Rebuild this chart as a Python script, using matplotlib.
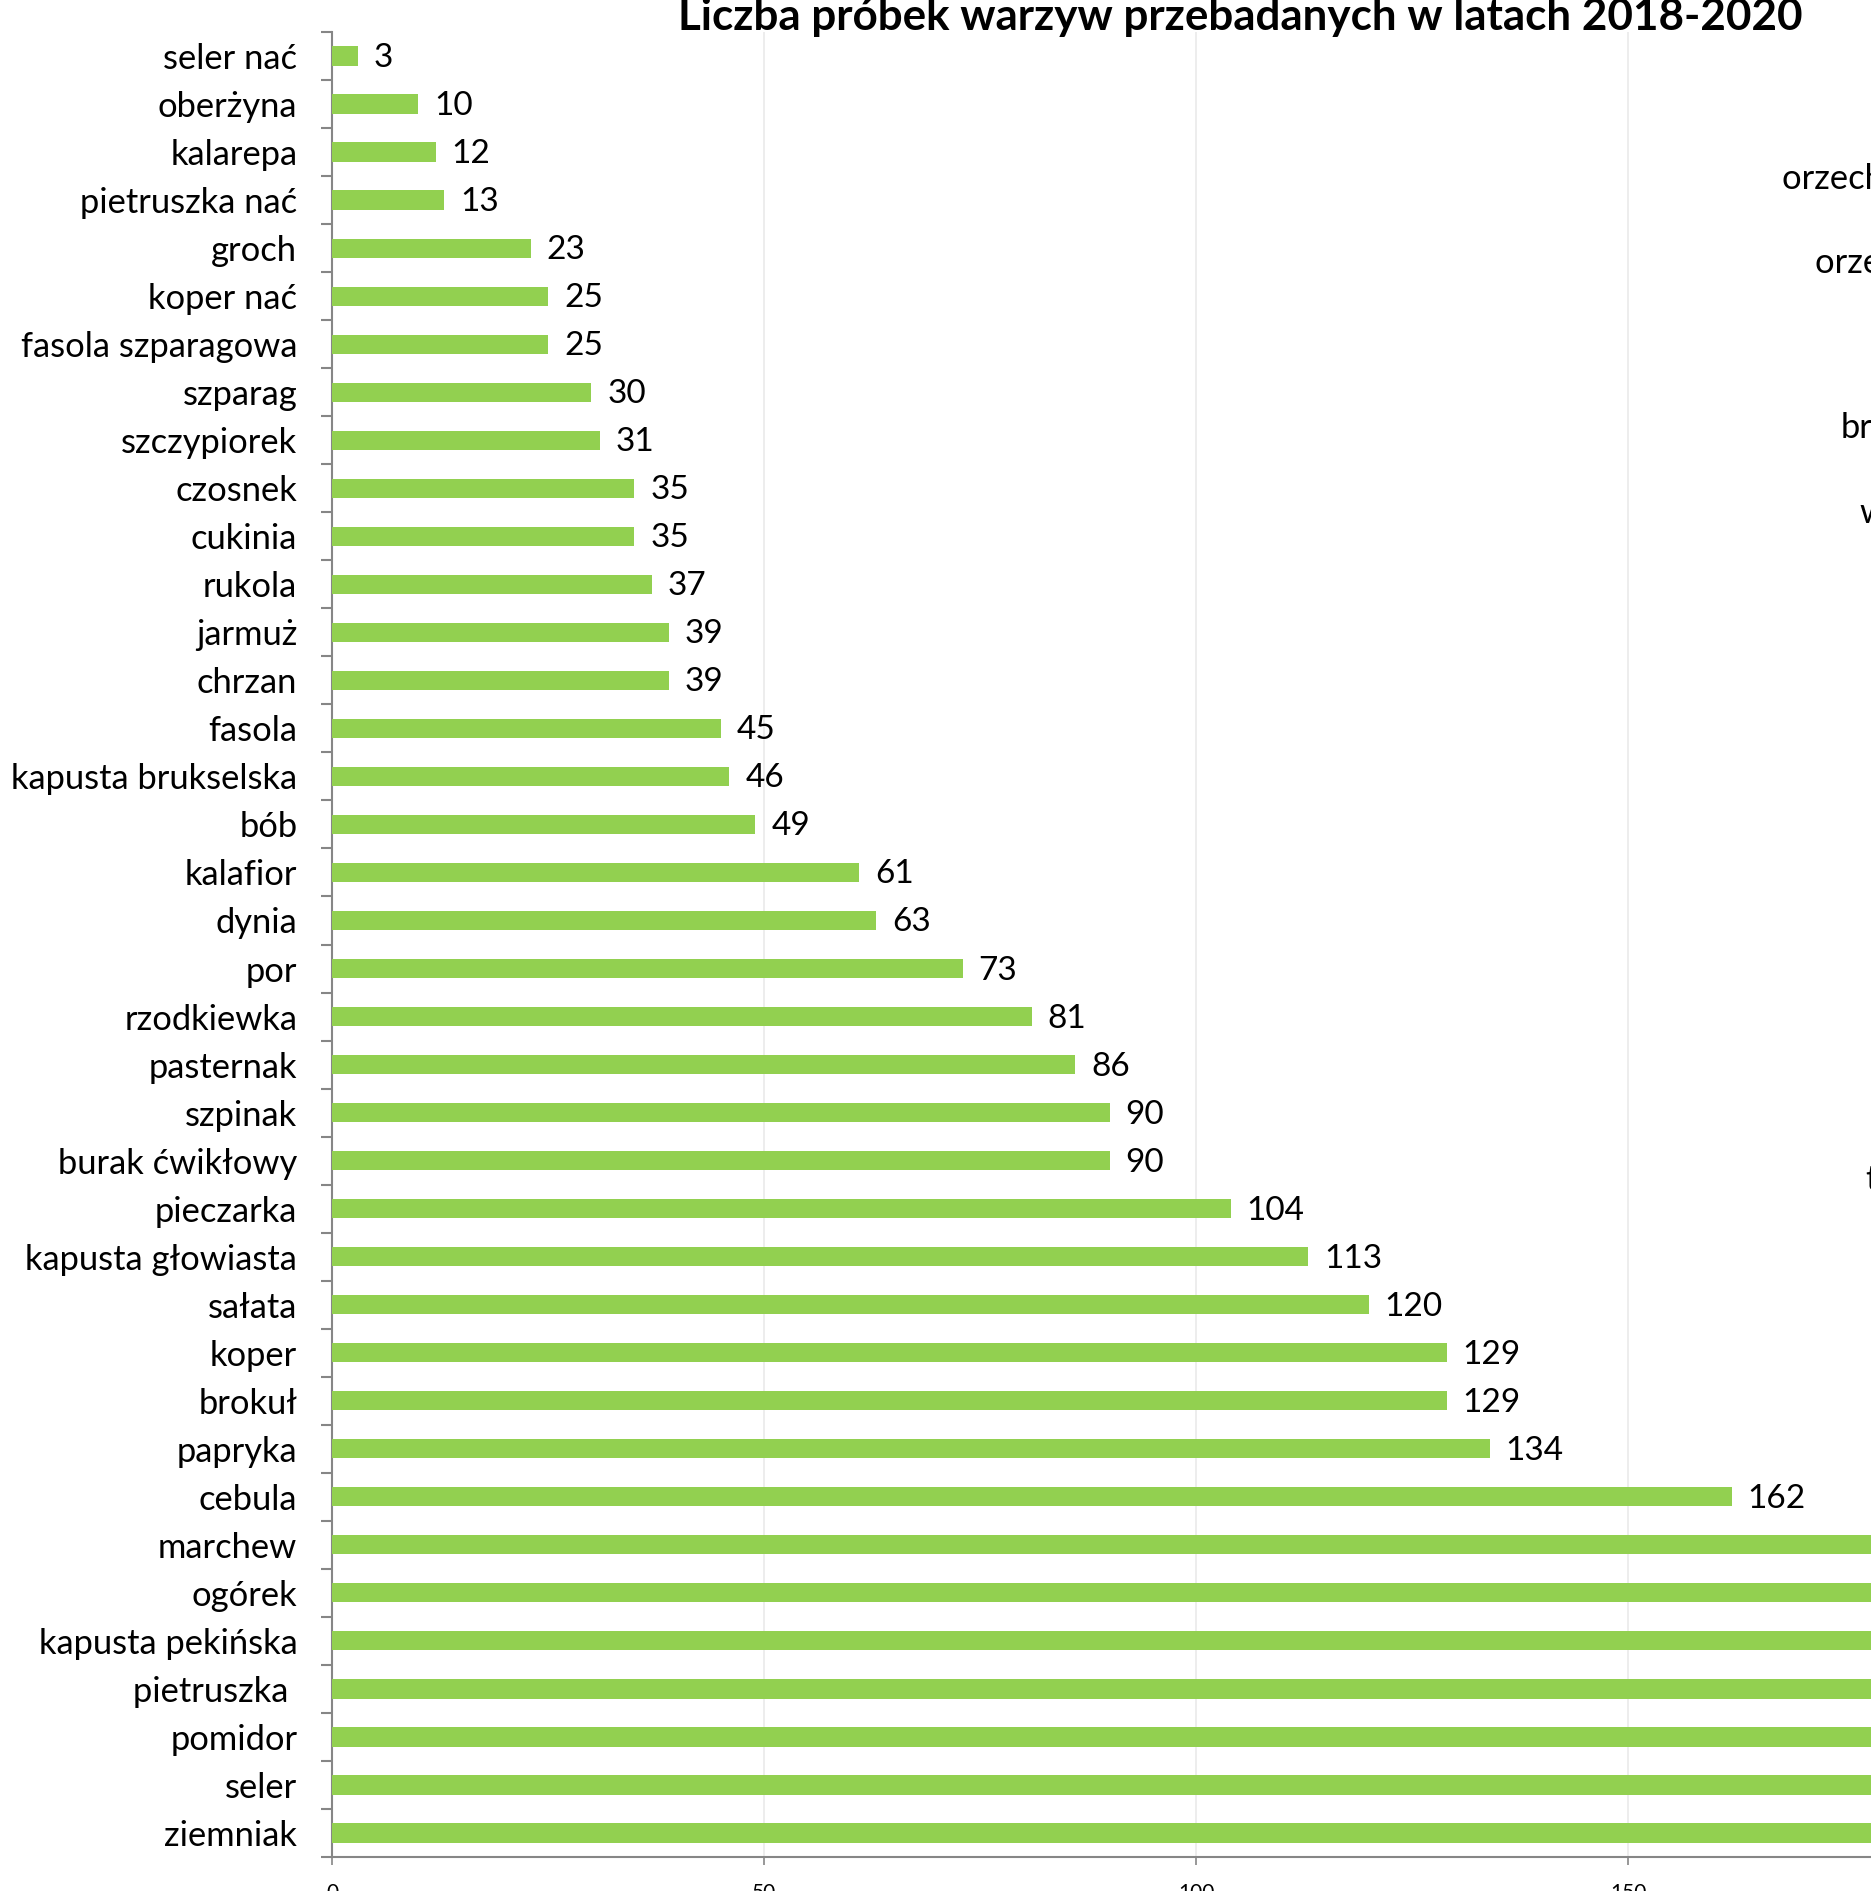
import matplotlib
matplotlib.use("Agg")
import matplotlib.pyplot as plt
import numpy as np

plt.rcParams['font.family'] = ['Lato', 'DejaVu Sans']

categories = ["seler nać", "oberżyna", "kalarepa", "pietruszka nać", "groch", "koper nać",
              "fasola szparagowa", "szparag", "szczypiorek", "czosnek", "cukinia", "rukola",
              "jarmuż", "chrzan", "fasola", "kapusta brukselska", "bób", "kalafior", "dynia",
              "por", "rzodkiewka", "pasternak", "szpinak", "burak ćwikłowy", "pieczarka",
              "kapusta głowiasta", "sałata", "koper", "brokuł", "papryka", "cebula",
              "marchew", "ogórek", "kapusta pekińska", "pietruszka ", "pomidor", "seler", "ziemniak"]
values = [3, 10, 12, 13, 23, 25, 25, 30, 31, 35, 35, 37, 39, 39, 45, 46, 49, 61, 63, 73, 81,
          86, 90, 90, 104, 113, 120, 129, 129, 134, 162,
          190, 200, 215, 225, 240, 255, 270]
xticks = [0, 50, 100, 150, 200, 250]
title = "Liczba próbek warzyw przebadanych w latach 2018-2020"
side_labels = ["orzechy włoskie", "orzechy laskowe", "brzoskwinie", "wiśnie", "truskawki"]

W, H = 1871, 1891
fig = plt.figure(figsize=(W / 100, H / 100), dpi=100)

x0_px, top_px, bot_px = 332, 32, 1857
px_per_unit = 8.64
xmax = 300
visible_max = (W - x0_px) / px_per_unit
ax = fig.add_axes([x0_px / W, (H - bot_px) / H, xmax * px_per_unit / W, (bot_px - top_px) / H])

y = np.arange(len(categories))
ax.barh(y, values, height=0.4, color='#92D050', edgecolor='none', zorder=3)
lbl_tr = matplotlib.transforms.offset_copy(ax.transData, fig=fig, x=16, y=-2, units='dots')
for yi, v in zip(y, values):
    if v < visible_max - 15:
        ax.text(v, yi, str(v), ha='left', va='center', fontsize=24, transform=lbl_tr, zorder=4)

ax.set_ylim(len(categories) - 0.5, -0.5)
ax.set_xlim(0, xmax)
ax.set_yticks(y)
ax.set_yticklabels(categories, fontsize=24.8)
ax.set_yticks(np.arange(-0.5, len(categories), 1), minor=True)
ax.tick_params(axis='y', which='major', length=0, pad=25)
ax.tick_params(axis='y', which='minor', length=8, width=1.5, color='#868686', direction='out')
ax.set_xticks(xticks)
ax.set_xticklabels([str(t) for t in xticks], fontsize=15)
ax.tick_params(axis='x', which='major', length=6, width=1.2, color='#868686', pad=13)

ax.grid(axis='x', color='#E8E8E8', linewidth=1.1, zorder=0)
for s in ['top', 'right']:
    ax.spines[s].set_visible(False)
for s in ['left', 'bottom']:
    ax.spines[s].set_color('#868686')
    ax.spines[s].set_linewidth(1.5)

fig.text(1240 / W, 1 - 30 / H, title, ha='center', va='baseline', fontsize=31.7, fontweight='bold')

side_pos = [(1782, 179), (1815, 263), (1841, 428), (1859, 513), (1865, 1180)]
for lbl, (sx, sy) in zip(side_labels, side_pos):
    fig.text(sx / W, 1 - sy / H, lbl, ha='left', va='center', fontsize=24.8)

fig.savefig("out.png", dpi=100)
